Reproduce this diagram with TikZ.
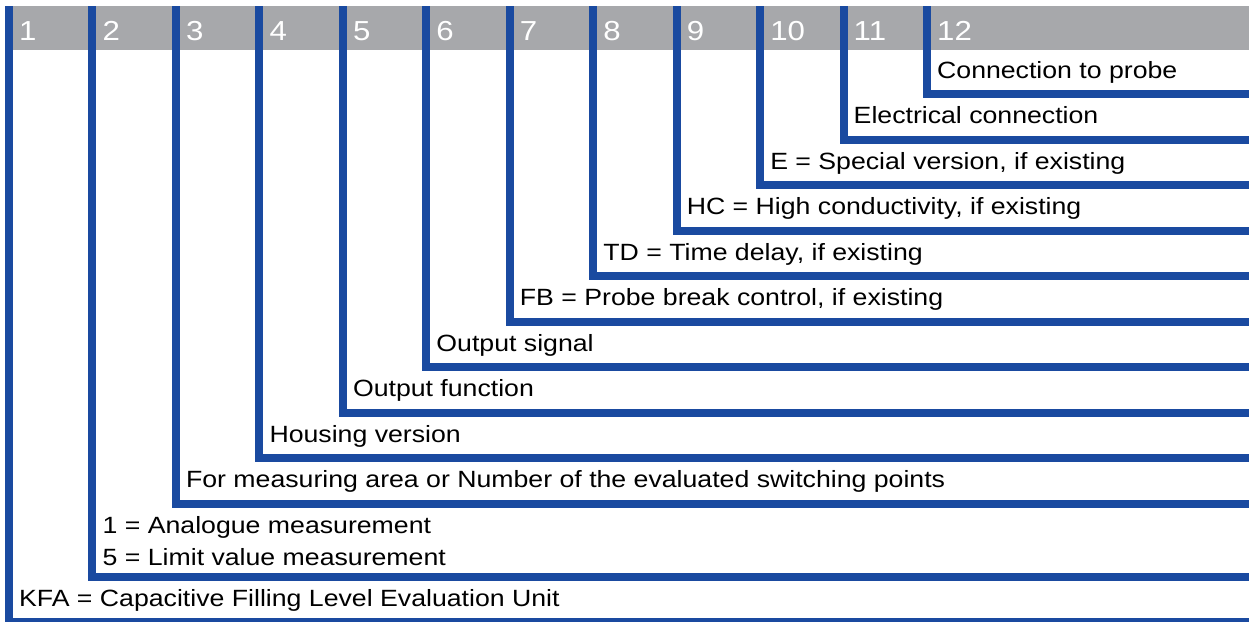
\documentclass[tikz,border=0pt]{standalone}
\usepackage{fontspec}
\setmainfont[FakeStretch=1.135]{Liberation Sans}
\definecolor{keyblue}{RGB}{26,74,160}
\definecolor{keygray}{RGB}{167,168,171}

\begin{document}
\begin{tikzpicture}[x=1pt, y=-1pt,
    bar/.style={draw=keyblue, line width=8pt},
    num/.style={anchor=base west, inner sep=0pt, text=white, font=\fontsize{27.5}{28}\selectfont},
    lbl/.style={anchor=base west, inner sep=0pt, font=\fontsize{23.5}{27}\selectfont}]
    \useasboundingbox (0, 0) rectangle (1249, 621);
    \fill[keygray] (9, 6) rectangle (1249, 50);

    % L-shaped brackets, one per position
    \foreach \k/\yk in {1/622, 2/577, 3/503.5, 4/458, 5/412.5, 6/367, 7/321.5, 8/276, 9/230.5, 10/185, 11/139.5, 12/94} {
        \pgfmathsetmacro{\xk}{9 + (\k - 1)*83.45}
        \coordinate (c\k) at (\xk, 6);
        \coordinate (e\k) at (1249, \yk);
        \draw[bar] (c\k) |- (e\k);
        \node[num] (n\k) at (\xk + 10, 40) {\k};
    }

    \node[lbl] (probe) at (936.95, 78) {Connection to probe};
    \node[lbl] (elec) at (853.5, 123.5) {Electrical connection};
    \node[lbl] (special) at (770.05, 169) {E = Special version, if existing};
    \node[lbl] (conduct) at (686.6, 214.5) {HC = High conductivity, if existing};
    \node[lbl] (delay) at (603.15, 260) {TD = Time delay, if existing};
    \node[lbl] (break) at (519.7, 305.5) {FB = Probe break control, if existing};
    \node[lbl] (signal) at (436.25, 351) {Output signal};
    \node[lbl] (function) at (352.8, 396.5) {Output function};
    \node[lbl] (housing) at (269.35, 442) {Housing version};
    \node[lbl] (area) at (185.9, 487.5) {For measuring area or Number of the evaluated switching points};
    \node[lbl] (analogue) at (102.45, 533.3) {1 = Analogue measurement};
    \node[lbl] (limit) at (102.45, 565) {5 = Limit value measurement};
    \node[lbl] (unit) at (19, 606.7) {KFA = Capacitive Filling Level Evaluation Unit};
\end{tikzpicture}
\end{document}
